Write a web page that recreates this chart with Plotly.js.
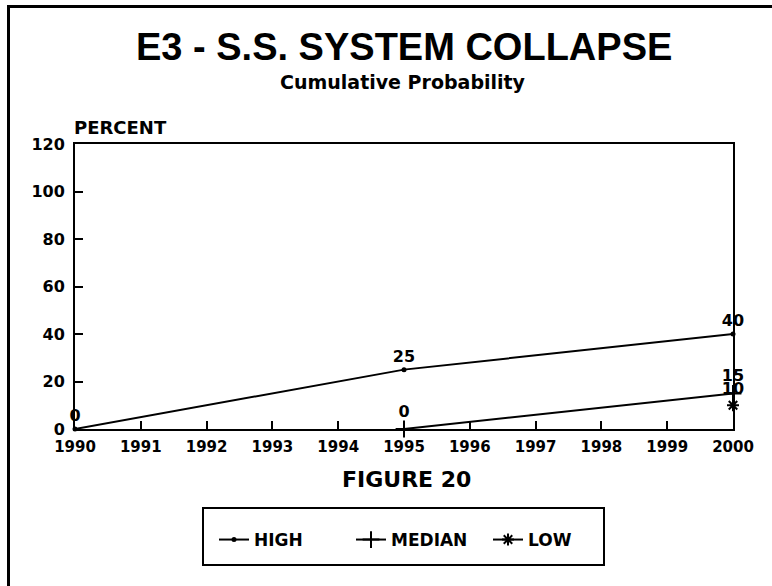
<!DOCTYPE html>
<html>
<head>
<meta charset="utf-8">
<script src="https://cdn.plot.ly/plotly-3.0.1.min.js"></script>
<style>html,body{margin:0;padding:0;background:#fff;}#chart{width:772px;height:586px;}</style>
</head>
<body>
<div id="chart"></div>
<script>
const years = [1990, 1991, 1992, 1993, 1994, 1995, 1996, 1997, 1998, 1999, 2000];
const highValues   = [0, null, null, null, null, 25, null, null, null, null, 40];
const medianValues = [null, null, null, null, null, 0, null, null, null, null, 15];
const lowValues    = [null, null, null, null, null, null, null, null, null, null, 10];
const seriesNames = ['HIGH', 'MEDIAN', 'LOW'];
const yTicks = [0, 20, 40, 60, 80, 100, 120];

const BF = 'DejaVu Sans';
function pack(vals) {
  const x = [], y = [], t = [];
  vals.forEach((v, i) => { if (v !== null) { x.push(years[i]); y.push(v); t.push(String(v)); } });
  return {x, y, t};
}
const h = pack(highValues), m = pack(medianValues), l = pack(lowValues);
const txtFont = {family: BF, size: 16, color: '#000', weight: 'bold'};

const traces = [
  {x: h.x, y: h.y, text: h.t, name: seriesNames[0], mode: 'lines+markers+text', textposition: 'top center',
   textfont: txtFont, line: {color: '#000', width: 2}, marker: {symbol: 'circle', size: 5, color: '#000'}, cliponaxis: false},
  {x: m.x, y: m.y, text: m.t, name: seriesNames[1], mode: 'lines+markers+text', textposition: 'top center',
   textfont: txtFont, line: {color: '#000', width: 2}, marker: {symbol: 'cross-thin-open', size: 12, color: '#000', line: {width: 2, color: '#000'}}, cliponaxis: false},
  {x: l.x, y: l.y, text: l.t, name: seriesNames[2], mode: 'lines+markers+text', textposition: 'top center',
   textfont: txtFont, line: {color: '#000', width: 2}, marker: {symbol: 'asterisk-open', size: 10, color: '#000', line: {width: 2, color: '#000'}}, cliponaxis: false}
];

const px = p => (p - 75) / 658;
const py = p => (429 - p) / 285;

const layout = {
  width: 772, height: 586,
  margin: {l: 75, r: 39, t: 144, b: 157, pad: 0},
  paper_bgcolor: '#fff', plot_bgcolor: '#fff',
  showlegend: true,
  legend: {orientation: 'h', x: px(214), xanchor: 'left', y: py(540), yanchor: 'middle',
           font: {family: BF, size: 17, color: '#000', weight: 'bold'}, bgcolor: 'rgba(0,0,0,0)',
           borderwidth: 0, entrywidth: 92, entrywidthmode: 'pixels'},
  xaxis: {range: [1990, 2000], tickmode: 'array', tickvals: years, ticktext: years.map(String),
          ticks: 'inside', ticklen: 8, tickwidth: 2, tickcolor: '#000', showgrid: false, zeroline: false,
          showline: true, linecolor: '#000', linewidth: 2, mirror: true,
          tickfont: {family: BF, size: 15, color: '#000', weight: 'bold'}, ticklabelstandoff: 3},
  yaxis: {range: [0, 120], tickmode: 'array', tickvals: yTicks,
          ticks: 'inside', ticklen: 8, tickwidth: 2, tickcolor: '#000', showgrid: false, zeroline: false,
          showline: true, linecolor: '#000', linewidth: 2, mirror: true,
          tickfont: {family: BF, size: 16, color: '#000', weight: 'bold'}, ticklabelstandoff: 5},
  annotations: [
    {text: 'E3 - S.S. SYSTEM COLLAPSE', xref: 'paper', yref: 'paper', x: px(404), y: py(47), xanchor: 'center', yanchor: 'middle',
     showarrow: false, font: {family: 'Liberation Sans', size: 38, color: '#000', weight: 'bold'}},
    {text: 'Cumulative Probability', xref: 'paper', yref: 'paper', x: px(403), y: py(82), xanchor: 'center', yanchor: 'middle',
     showarrow: false, font: {family: BF, size: 19, color: '#000', weight: 'bold'}},
    {text: 'PERCENT', xref: 'paper', yref: 'paper', x: px(72), y: py(127), xanchor: 'left', yanchor: 'middle',
     showarrow: false, font: {family: BF, size: 18, color: '#000', weight: 'bold'}},
    {text: 'FIGURE 20', xref: 'paper', yref: 'paper', x: px(406), y: py(479), xanchor: 'center', yanchor: 'middle',
     showarrow: false, font: {family: BF, size: 22, color: '#000', weight: 'bold'}}
  ],
  shapes: [
    {type: 'line', xref: 'paper', yref: 'paper', x0: px(8.5), x1: px(8.5), y0: py(5), y1: py(586), line: {color: '#000', width: 3}},
    {type: 'line', xref: 'paper', yref: 'paper', x0: px(7), x1: px(772), y0: py(6.5), y1: py(6.5), line: {color: '#000', width: 3}},
    {type: 'rect', xref: 'paper', yref: 'paper', x0: px(203), x1: px(604), y0: py(565), y1: py(508), line: {color: '#000', width: 2}}
  ]
};

Plotly.newPlot('chart', traces, layout, {displayModeBar: false, staticPlot: true});
</script>
</body>
</html>
